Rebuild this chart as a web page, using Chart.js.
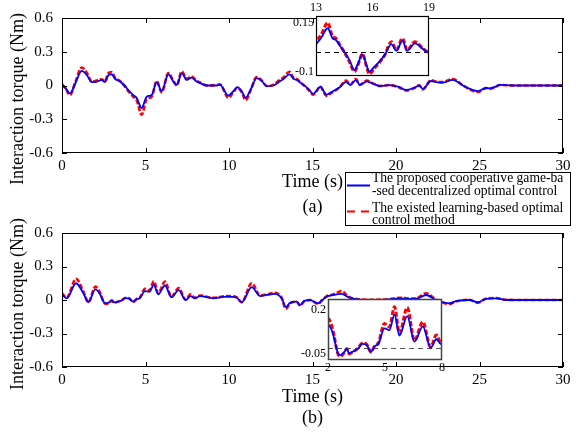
<!DOCTYPE html>
<html>
<head>
<meta charset="utf-8">
<script src="https://cdn.jsdelivr.net/npm/chart.js@4/dist/chart.umd.min.js"></script>
<style>
  html, body { margin: 0; padding: 0; background: #fff; }
  #fig { position: relative; width: 577px; height: 433px; overflow: hidden; }
  #fig canvas { position: absolute; }
</style>
</head>
<body>
<div id="fig">
  <canvas id="plotA" width="577" height="230" style="left:0;top:0"></canvas>
  <canvas id="plotB" width="577" height="218" style="left:0;top:215px"></canvas>
  <canvas id="zoomA" width="150" height="90" style="left:290px;top:0"></canvas>
  <canvas id="zoomB" width="150" height="100" style="left:300px;top:285px"></canvas>
</div>
<script>
// (a) interaction torque, time in s
var tA = [0, 0.2, 0.48, 0.8, 1.18, 1.5, 1.78, 2.0, 2.18, 2.38, 2.57, 2.77, 2.97, 3.17, 3.47, 3.75, 3.97, 4.27, 4.47, 4.77,
  5.07, 5.37, 5.67, 5.97, 6.37, 6.67, 6.87, 7.17, 7.47, 7.76, 8.06, 8.36, 8.66, 9.26, 9.46, 9.96, 10.26, 10.5, 10.76, 11.0,
  11.3, 11.66, 11.96, 12.26, 12.65, 13.04, 13.26, 13.62, 13.88, 14.06, 14.24, 14.5, 14.77, 15.04, 15.2, 15.47, 15.68, 15.83,
  16.1, 16.36, 16.65, 17.0, 17.27, 17.59, 17.84, 18.25, 18.7, 19.05, 19.6, 20.2, 20.6, 21.1, 21.4, 21.6, 22.1, 22.4, 22.8,
  23.4, 24.0, 24.5, 24.9, 25.4, 25.6, 25.9, 26.2, 27, 28, 29, 30];
var proposedA = [0.005, -0.02, -0.07, 0.02, 0.13, 0.09, 0.03, 0.03, 0.04, 0.05, 0.03, 0.09, 0.10, 0.06, 0.035, 0.0, -0.04, -0.085, -0.11, -0.2,
  -0.1, -0.085, 0.03, -0.05, 0.10, 0.035, 0.005, 0.11, 0.05, 0.07, 0.035, 0.015, 0.0, 0.0, 0.005, -0.09, -0.05, -0.015, -0.05, -0.11,
  -0.035, 0.065, 0.04, -0.005, 0.0, 0.036, 0.057, 0.099, 0.057, 0.05, 0.029, 0.001, -0.033, -0.075, -0.054, -0.01, -0.054, -0.082,
  -0.061, -0.04, -0.013, 0.033, 0.005, 0.047, 0.005, 0.036, 0.011, -0.005, 0.003, -0.015, -0.04, -0.02, 0.0, -0.03, 0.04, 0.03, 0.025,
  0.05, 0.0, -0.035, -0.05, -0.02, -0.025, -0.015, 0.005, 0, 0, 0, 0];
var existedA = [0.01, -0.025, -0.085, 0.03, 0.16, 0.11, 0.035, 0.04, 0.05, 0.055, 0.035, 0.11, 0.12, 0.07, 0.04, -0.005, -0.05, -0.1, -0.13, -0.26,
  -0.12, -0.1, 0.04, -0.06, 0.11, 0.04, 0.0, 0.125, 0.06, 0.08, 0.04, 0.02, 0.0, 0.005, 0.01, -0.11, -0.06, -0.02, -0.06, -0.13,
  -0.04, 0.075, 0.045, -0.005, 0.005, 0.05, 0.07, 0.122, 0.065, 0.058, 0.033, 0.0, -0.04, -0.082, -0.06, -0.008, -0.06, -0.092,
  -0.068, -0.045, -0.012, 0.043, 0.008, 0.057, 0.008, 0.043, 0.013, -0.004, 0.005, -0.018, -0.045, -0.022, 0.002, -0.035, 0.048, 0.035, 0.03,
  0.058, 0.002, -0.04, -0.058, -0.024, -0.03, -0.018, 0.005, 0, 0, 0, 0];

// (b)
var tB = [0, 0.28, 0.84, 1.28, 1.58, 2.0, 2.18, 2.32, 2.5, 2.64, 2.85, 2.99, 3.11, 3.29, 3.55, 3.82, 4.05, 4.26, 4.47, 4.65,
  4.97, 5.23, 5.5, 5.76, 6.17, 6.55, 6.99, 7.4, 7.7, 7.96, 8.26, 9.06, 9.86, 10.46, 10.76, 11.36, 11.86, 12.26, 12.75, 13.15,
  13.41, 13.65, 14.05, 14.25, 14.55, 14.85, 15.35, 15.55, 15.85, 16.25, 16.75, 17.15, 17.65, 18.65, 19.6, 20.2, 20.8, 21.3,
  21.8, 22.4, 23.2, 23.6, 24.4, 24.9, 25.4, 26.0, 26.6, 28, 30];
var proposedB = [0.05, 0.015, 0.15, 0.06, -0.02, 0.095, 0.075, 0.04, -0.018, -0.03, -0.018, -0.005, -0.022, -0.016, -0.005, 0.016, 0.01, -0.016, 0.007, 0.015,
  0.08, 0.072, 0.136, 0.05, 0.13, 0.025, 0.088, 0.0, 0.035, 0.014, 0.035, 0.015, 0.03, 0.02, -0.02, 0.115, 0.035, 0.045, 0.055, 0.015,
  -0.065, -0.025, -0.015, -0.045, -0.005, -0.002, -0.03, -0.005, 0.03, 0.045, 0.055, 0.025, 0.005, 0.0, 0.005, 0.015, 0.01, 0.015,
  0.045, 0.0, -0.03, -0.01, 0.0, -0.02, 0.01, 0.015, 0.0, 0, 0];
var existedB = [0.06, 0.02, 0.19, 0.075, -0.02, 0.12, 0.095, 0.05, -0.02, -0.035, -0.02, -0.003, -0.025, -0.018, -0.003, 0.02, 0.013, -0.018, 0.01, 0.02,
  0.1, 0.085, 0.168, 0.06, 0.165, 0.03, 0.106, 0.003, 0.052, 0.02, 0.04, 0.02, 0.035, 0.025, -0.02, 0.15, 0.04, 0.05, 0.065, 0.02,
  -0.08, -0.03, -0.015, -0.05, -0.005, 0.0, -0.035, -0.005, 0.035, 0.05, 0.08, 0.03, 0.008, 0.002, 0.008, 0.02, 0.013, 0.02,
  0.06, 0.003, -0.035, -0.012, 0.002, -0.025, 0.013, 0.018, 0.002, 0, 0];

var timeTicks = [0, 5, 10, 15, 20, 25, 30];
var torqueTicks = [-0.6, -0.3, 0, 0.3, 0.6];
var zoomATimeTicks = [13, 16, 19];
var zoomATorqueTicks = [-0.1, 0.15];
var zoomBTimeTicks = [2, 5, 8];
var zoomBTorqueTicks = [-0.05, 0.2];
var legendText = [
  ['The proposed cooperative game-ba', '-sed decentralized optimal control'],
  ['The existed learning-based optimal', 'control method']
];

var SERIF = 'Liberation Serif';

function pts(t, v) {
  return t.map(function (x, i) { return { x: x, y: v[i] }; });
}

function series(t, prop, exist, w) {
  return [
    { label: 'proposed', data: pts(t, prop), borderColor: '#0000ff', borderWidth: w[0],
      pointRadius: 0, cubicInterpolationMode: 'monotone', fill: false },
    { label: 'existed', data: pts(t, exist), borderColor: '#ff0000', borderWidth: w[1],
      borderDash: [5, 2], pointRadius: 0, cubicInterpolationMode: 'monotone', fill: false }
  ];
}

function setTicks(list) {
  return function (s) { s.ticks = list.map(function (v) { return { value: v }; }); };
}

function fmt(v) {
  if (Math.abs(v) < 1e-9) return '0';
  return String(Math.round(v * 100) / 100);
}

// box + inward ticks on all four sides, titles, captions
var decor = {
  id: 'decor',
  beforeDraw: function (chart, args, o) {
    if (!o.white) return;
    var a = chart.chartArea, ctx = chart.ctx;
    ctx.save();
    ctx.fillStyle = '#fff';
    ctx.fillRect(a.left, a.top, a.right - a.left, a.bottom - a.top);
    ctx.restore();
  },
  beforeDatasetsDraw: function (chart, args, o) {
    if (!o.zeroLine) return;
    var a = chart.chartArea, ctx = chart.ctx;
    var y0 = Math.round(chart.scales.y.getPixelForValue(0)) + 0.5;
    ctx.save();
    ctx.strokeStyle = o.zeroLine;
    ctx.lineWidth = 1.2;
    ctx.setLineDash([5, 4]);
    ctx.beginPath();
    ctx.moveTo(a.left, y0);
    ctx.lineTo(a.right, y0);
    ctx.stroke();
    ctx.restore();
  },
  afterDraw: function (chart, args, o) {
    var a = chart.chartArea, ctx = chart.ctx;
    var x = chart.scales.x, y = chart.scales.y;
    var L = o.tick || 0;
    ctx.save();
    ctx.strokeStyle = o.frame || '#000';
    ctx.lineWidth = o.frameWidth || 1;
    ctx.strokeRect(a.left + 0.5, a.top + 0.5, a.right - a.left - 1, a.bottom - a.top - 1);
    if (L) {
      ctx.beginPath();
      x.ticks.forEach(function (t) {
        var px = Math.round(x.getPixelForValue(t.value)) + 0.5;
        ctx.moveTo(px, a.bottom); ctx.lineTo(px, a.bottom - L);
        ctx.moveTo(px, a.top); ctx.lineTo(px, a.top + L);
      });
      y.ticks.forEach(function (t) {
        var py = Math.round(y.getPixelForValue(t.value)) + 0.5;
        ctx.moveTo(a.left, py); ctx.lineTo(a.left + L, py);
        ctx.moveTo(a.right, py); ctx.lineTo(a.right - L, py);
      });
      ctx.stroke();
    }
    ctx.fillStyle = '#000';
    // small y labels of the zoom boxes sit a little inside the ends
    if (o.yLabelShift) {
      ctx.font = '12px "' + SERIF + '"';
      ctx.textAlign = 'right';
      ctx.textBaseline = 'middle';
      y.ticks.forEach(function (t, i) {
        ctx.fillText(fmt(t.value), a.left - 2, y.getPixelForValue(t.value) + o.yLabelShift[i]);
      });
    }
    if (o.yTitle) {
      ctx.save();
      ctx.translate(18, o.yTitleY);
      ctx.rotate(-Math.PI / 2);
      ctx.font = '18px "' + SERIF + '"';
      ctx.textAlign = 'center';
      ctx.textBaseline = 'middle';
      ctx.fillText(o.yTitle, 0, 0);
      ctx.restore();
    }
    if (o.xTitle) {
      var cx = (a.left + a.right) / 2;
      ctx.font = '18px "' + SERIF + '"';
      ctx.textAlign = 'center';
      ctx.textBaseline = 'middle';
      ctx.fillText(o.xTitle, cx, o.xTitleY);
      ctx.fillText(o.caption, cx, o.captionY);
    }
    if (o.legend) {
      var lx = 345, ly = 172, lw = 225, lh = 53;
      ctx.fillStyle = '#fff';
      ctx.fillRect(lx, ly, lw, lh);
      ctx.strokeStyle = '#000';
      ctx.lineWidth = 1;
      ctx.strokeRect(lx + 0.5, ly + 0.5, lw, lh);
      ctx.lineWidth = 2;
      ctx.strokeStyle = '#0000ff';
      ctx.beginPath(); ctx.moveTo(347, 185.5); ctx.lineTo(370, 185.5); ctx.stroke();
      ctx.strokeStyle = '#ff0000';
      ctx.setLineDash([8, 6]);
      ctx.beginPath(); ctx.moveTo(347, 211.5); ctx.lineTo(370, 211.5); ctx.stroke();
      ctx.setLineDash([]);
      ctx.fillStyle = '#000';
      ctx.font = '13.6px "' + SERIF + '"';
      ctx.textAlign = 'left';
      ctx.textBaseline = 'middle';
      var rows = [178, 191, 208, 220];
      ctx.fillText(legendText[0][0], 372, rows[0]);
      ctx.fillText(legendText[0][1], 372, rows[1]);
      ctx.fillText(legendText[1][0], 372, rows[2]);
      ctx.fillText(legendText[1][1], 372, rows[3]);
    }
    ctx.restore();
  }
};

function mainChart(id, t, prop, exist, padTop, xHeight, extra) {
  return new Chart(document.getElementById(id), {
    type: 'line',
    data: { datasets: series(t, prop, exist, [1.8, 2.6]) },
    plugins: [decor],
    options: {
      responsive: false, animation: false, devicePixelRatio: 1,
      layout: { padding: { left: 0, right: 14, top: padTop, bottom: 0 } },
      plugins: { legend: { display: false }, tooltip: { enabled: false }, decor: extra },
      scales: {
        x: {
          type: 'linear', min: 0, max: 30,
          afterBuildTicks: setTicks(timeTicks),
          afterFit: function (s) { s.height = xHeight; },
          grid: { display: false, drawTicks: false }, border: { display: false },
          ticks: { padding: 4, color: '#000', autoSkip: false, maxRotation: 0,
                   font: { family: SERIF, size: 15 } }
        },
        y: {
          min: -0.6, max: 0.6,
          afterBuildTicks: setTicks(torqueTicks),
          afterFit: function (s) { s.width = 62; },
          grid: { display: false, drawTicks: false }, border: { display: false },
          ticks: { padding: 9, color: '#000', font: { family: SERIF, size: 15 }, callback: fmt }
        }
      }
    }
  });
}

function zoomChart(id, t, prop, exist, range, xTicks, yTicks, pad, xPos, xHeight, yWidth, extra) {
  return new Chart(document.getElementById(id), {
    type: 'line',
    data: { datasets: series(t, prop, exist, [1.8, 3]) },
    plugins: [decor],
    options: {
      responsive: false, animation: false, devicePixelRatio: 1,
      layout: { padding: pad },
      plugins: { legend: { display: false }, tooltip: { enabled: false }, decor: extra },
      scales: {
        x: {
          type: 'linear', position: xPos, min: range[0], max: range[1],
          afterBuildTicks: setTicks(xTicks),
          afterFit: function (s) { s.height = xHeight; },
          grid: { display: false, drawTicks: false }, border: { display: false },
          ticks: { padding: 1, color: '#000', autoSkip: false, maxRotation: 0,
                   font: { family: SERIF, size: 12 } }
        },
        y: {
          min: range[2], max: range[3],
          afterBuildTicks: setTicks(yTicks),
          afterFit: function (s) { s.width = yWidth; },
          grid: { display: false, drawTicks: false }, border: { display: false },
          ticks: { display: false }
        }
      }
    }
  });
}

mainChart('plotA', tA, proposedA, existedA, 13, 77, {
  tick: 5, yTitle: 'Interaction torque (Nm)', yTitleY: 99,
  xTitle: 'Time (s)', xTitleY: 182, caption: '(a)', captionY: 207, legend: true
});
mainChart('plotB', tB, proposedB, existedB, 13, 66, {
  tick: 5, yTitle: 'Interaction torque (Nm)', yTitleY: 89,
  xTitle: 'Time (s)', xTitleY: 182, caption: '(b)', captionY: 203
});
zoomChart('zoomA', tA, proposedA, existedA, [13, 19, -0.1, 0.15], zoomATimeTicks, zoomATorqueTicks,
  { left: 0, right: 11, top: 0, bottom: 14 }, 'top', 16, 26,
  { white: true, zeroLine: '#000', frame: '#000', frameWidth: 1.2, yLabelShift: [-4, 7] });
zoomChart('zoomB', tB, proposedB, existedB, [2, 8, -0.05, 0.2], zoomBTimeTicks, zoomBTorqueTicks,
  { left: 0, right: 8, top: 14, bottom: 0 }, 'bottom', 25, 28,
  { white: true, zeroLine: '#555', frame: '#444', frameWidth: 1.5, yLabelShift: [-6, 11] });
</script>
</body>
</html>
